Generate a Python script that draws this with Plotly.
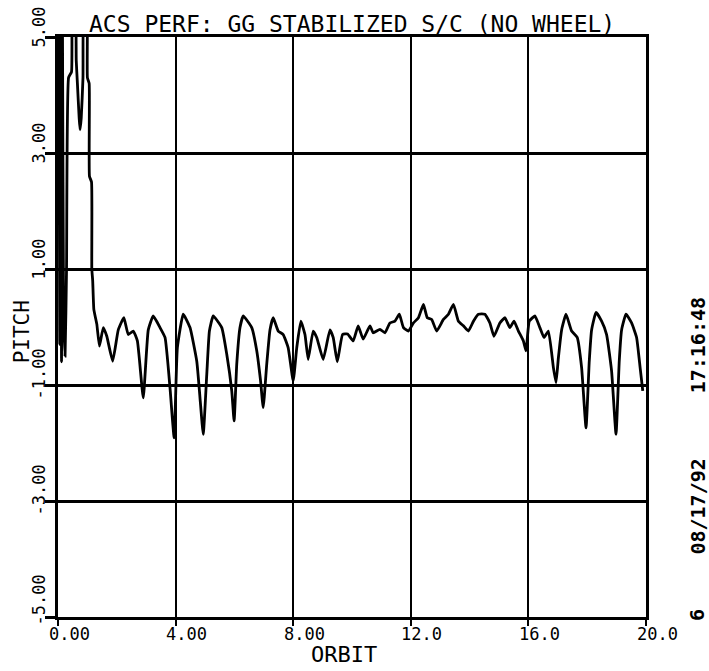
import plotly.graph_objects as go

# ---- data ----
orbit = [0.00, 0.03, 0.06, 0.09, 0.12, 0.15, 0.19, 0.24, 0.29, 0.36, 0.46, 0.50, 0.58, 0.62,
         0.66, 0.72, 0.75, 0.79, 0.85, 0.88, 0.93, 0.98, 1.00, 1.06, 1.07, 1.14, 1.15, 1.18, 1.22,
         1.32, 1.41, 1.54, 1.66, 1.86, 2.05, 2.24, 2.39, 2.56, 2.70, 2.90, 3.07, 3.24, 3.47, 3.64,
         3.81, 3.95, 4.06, 4.26, 4.49, 4.72, 4.83, 4.94, 5.06, 5.15, 5.28, 5.57, 5.74, 5.91, 5.99,
         6.08, 6.19, 6.30, 6.59, 6.76, 6.89, 6.98, 7.10, 7.21, 7.32, 7.49, 7.66, 7.83, 8.00, 8.12,
         8.26, 8.40, 8.51, 8.68, 8.80, 9.02, 9.25, 9.36, 9.50, 9.68, 9.85, 10.04, 10.21, 10.38,
         10.61, 10.72, 10.95, 11.12, 11.29, 11.46, 11.61, 11.75, 11.92, 12.09, 12.26, 12.43, 12.56,
         12.71, 12.88, 13.11, 13.28, 13.45, 13.62, 13.79, 13.96, 14.13, 14.30, 14.52, 14.69, 14.83,
         15.03, 15.20, 15.37, 15.51, 15.66, 15.83, 15.92, 16.03, 16.22, 16.39, 16.53, 16.68, 16.85,
         16.94, 17.02, 17.13, 17.28, 17.47, 17.66, 17.81, 17.96, 18.07, 18.15, 18.30, 18.49, 18.66,
         18.83, 18.98, 19.09, 19.17, 19.32, 19.51, 19.68, 19.80, 19.89]
pitch = [2.0, 5.6, -0.3, 5.6, -0.6, 5.6, 0.2, -0.5, 1.0, 4.3, 4.4, 5.6, 5.6, 4.6,
         4.2, 3.6, 3.4, 3.6, 4.3, 5.6, 5.6, 5.6, 4.3, 4.2, 2.6, 2.5, 1.0, 0.8, 0.3,
         0.05, -0.33, -0.01, -0.16, -0.59, -0.05, 0.16, -0.13, -0.07, -0.24, -1.22, -0.05, 0.19, -0.01, -0.18,
         -1.05, -1.91, -0.36, 0.22, -0.01, -0.59, -1.22, -1.85, -0.82, -0.07, 0.19, -0.01, -0.47, -1.10, -1.62,
         -0.64, -0.01, 0.19, -0.01, -0.41, -0.93, -1.39, -0.64, -0.05, 0.16, -0.07, -0.13, -0.36, -0.93, -0.36,
         0.10, -0.13, -0.56, -0.07, -0.18, -0.56, -0.05, -0.18, -0.60, -0.13, -0.12, -0.24, 0.02, -0.21,
         0.02, -0.10, -0.04, -0.10, 0.07, 0.10, 0.22, -0.01, -0.07, 0.07, 0.16, 0.39, 0.16,
         0.13, -0.07, 0.13, 0.22, 0.39, 0.10, 0.02, -0.07, 0.10, 0.22, 0.22, 0.07, -0.16,
         0.07, 0.16, -0.01, 0.10, -0.07, -0.24, -0.41, 0.10, 0.19, -0.01, -0.18, -0.07, -0.70,
         -0.96, -0.53, -0.05, 0.22, -0.07, -0.18, -0.70, -1.74, -0.59, -0.05, 0.25, 0.10, -0.13,
         -0.76, -1.85, -0.59, -0.05, 0.22, 0.07, -0.18, -0.70, -1.10]

x_ticks = [0, 4, 8, 12, 16, 20]
x_tick_text = ["0.00", "4.00", "8.00", "12.0", "16.0", "20.0"]
y_ticks = [5, 3, 1, -1, -3, -5]
y_tick_text = ["5.00", "3.00", "1.00", "-1.00", "-3.00", "-5.00"]

title_text = "ACS PERF: GG STABILIZED S/C (NO WHEEL)"
x_title = "ORBIT"
y_title = "PITCH"
stamp_parts = ["6", "08/17/92", "17:16:48"]

MONO = "DejaVu Sans Mono"

fig = go.Figure()
fig.add_trace(go.Scatter(x=orbit, y=pitch, mode="lines",
                         line=dict(color="black", width=2.8, shape="spline", smoothing=0.4),
                         showlegend=False))

fig.update_layout(
    width=709, height=671,
    margin=dict(l=58, r=63, t=37, b=54),
    paper_bgcolor="white", plot_bgcolor="white",
    font=dict(family=MONO, color="black"),
)
fig.update_xaxes(range=[0, 20], tickvals=x_ticks, showticklabels=False,
                 showgrid=True, gridcolor="black", gridwidth=2.3,
                 showline=True, linecolor="black", linewidth=2.5, mirror=True,
                 ticks="outside", ticklen=6, tickwidth=2, tickcolor="black",
                 zeroline=False)
fig.update_yaxes(range=[-5, 5], tickvals=y_ticks, showticklabels=False,
                 showgrid=True, gridcolor="black", gridwidth=2.6,
                 showline=True, linecolor="black", linewidth=2.5, mirror=True,
                 ticks="outside", ticklen=10, tickwidth=2.6, tickcolor="black",
                 zeroline=False)

ann = []
for v, t in zip(y_ticks, y_tick_text):
    shift = -17 if t.startswith("-") else -13
    if v == -5:
        shift = -11
    ann.append(dict(x=-0.034, xref="paper", y=v, yref="y", text=t, showarrow=False,
                    textangle=-90, xanchor="center", yanchor="bottom", yshift=shift,
                    font=dict(family=MONO, size=17, color="black")))
for v, t in zip(x_ticks, x_tick_text):
    ann.append(dict(x=v, xref="x", y=0, yref="paper", text=t, showarrow=False,
                    xanchor="center", yanchor="middle", xshift=11, yshift=-17,
                    font=dict(family=MONO, size=17, color="black")))
ann.append(dict(x=0.5, xref="paper", y=1, yref="paper", text=title_text, showarrow=False,
                xanchor="center", yanchor="bottom", yshift=-2,
                font=dict(family=MONO, size=23, color="black")))
ann.append(dict(x=0.486, xref="paper", y=-0.064, yref="paper", text=x_title, showarrow=False,
                xanchor="center", yanchor="middle",
                font=dict(family=MONO, size=22, color="black")))
ann.append(dict(x=-0.061, xref="paper", y=0.491, yref="paper", text=y_title, showarrow=False,
                textangle=-90, xanchor="center", yanchor="middle",
                font=dict(family=MONO, size=21, color="black")))
stamp_y = [0.003, 0.19, 0.468]
for t, yy in zip(stamp_parts, stamp_y):
    ann.append(dict(x=1.088, xref="paper", y=yy, yref="paper", text="<b>" + t + "</b>",
                    showarrow=False, textangle=-90, xanchor="center", yanchor="middle",
                    font=dict(family=MONO, size=20, color="black")))
fig.update_layout(annotations=ann)

fig.write_html("out.html")
